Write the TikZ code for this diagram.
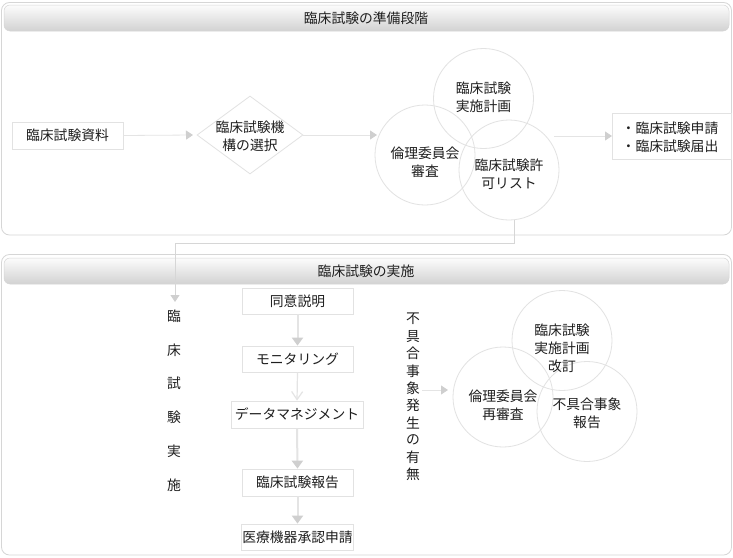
\documentclass[tikz,border=0pt]{standalone}
\usepackage{fontspec}
\setmainfont{Noto Sans CJK JP}
\usetikzlibrary{shapes.geometric,arrows.meta}
\definecolor{panelc}{HTML}{D6D6D6}
\definecolor{boxc}{HTML}{E2E2E2}
\definecolor{linec}{HTML}{E4E4E4}
\definecolor{arrc}{HTML}{CFCFCF}
\definecolor{hdrtop}{HTML}{FCFCFC}
\definecolor{hdrbot}{HTML}{D2D2D2}
\definecolor{txtc}{HTML}{1E1E1E}
\tikzset{
  x=1pt, y=-1pt,
  every node/.style={text=txtc, font=\fontsize{13.8}{18}\selectfont},
  panel/.style={draw=panelc, line width=0.8pt, rounded corners=8pt},
  hdr/.style={draw=panelc, line width=0.5pt, top color=hdrtop, bottom color=hdrbot, rounded corners=6pt},
  stepbox/.style={draw=boxc, line width=0.8pt, fill=white, inner sep=0pt, minimum height=27pt},
  ring/.style={circle, draw=boxc, line width=0.8pt, minimum size=100pt, inner sep=0pt},
  lbl/.style={align=center, inner sep=0pt},
  thin link/.style={draw=linec, line width=0.8pt, -{Triangle[length=7pt,width=9pt,color=arrc]}},
  thick link/.style={draw=linec, line width=2pt, -{Triangle[length=8pt,width=11pt,color=arrc]}},
  open link/.style={draw=linec, line width=1.2pt, -{Straight Barb[length=8pt,width=11pt,color=linec]}},
}
\begin{document}
\begin{tikzpicture}
\useasboundingbox (0,0) rectangle (733,557);
\fill[white] (0,0) rectangle (733,557);

% ---------- top panel ----------
\draw[panel] (1.5,2.5) rectangle (731.5,235);
\shade[hdr] (4,5) rectangle (729,31);
\node (h1) at (366,18) {臨床試験の準備段階};

\node[stepbox, minimum width=111pt] (src) at (67.5,135.5) {臨床試験資料};
\node[diamond, draw=boxc, line width=0.8pt, minimum width=106pt, minimum height=78pt, inner sep=0pt] (dia) at (250,135) {};
\node[lbl] (diat) at (250,136) {臨床試験機\\構の選択};

\node[ring] (c1) at (483.5,98.5) {};
\node[ring] (c2) at (425,155) {};
\node[ring] (c3) at (509,170) {};
\node[lbl] (c1t) at (483.5,97.5) {臨床試験\\実施計画};
\node[lbl] (c2t) at (425,162) {倫理委員会\\審査};
\node[lbl] (c3t) at (509,174) {臨床試験許\\可リスト};

\node[stepbox, minimum width=119pt, minimum height=46pt] (out) at (671.5,136) {};
\node[lbl, align=left] (outt) at (670,137) {・臨床試験申請\\・臨床試験届出};

\coordinate (a1e) at (193,135);
\coordinate (a2e) at (377,135);
\coordinate (a3s) at (554,136);
\coordinate (a3e) at (612,136);
\draw[thin link] (src.east) -- (a1e);
\draw[thin link] (dia.east) -- (a2e);
\draw[thin link] (a3s) -- (a3e);

% ---------- bottom panel ----------
\draw[panel] (1.5,254.5) rectangle (731.5,555);
\shade[hdr] (4,258) rectangle (729,284);
\node (h2) at (366,271) {臨床試験の実施};

% connector from top to bottom
\coordinate (k0) at (514,219.7);
\coordinate (k1) at (514,243);
\coordinate (k2) at (175,243);
\coordinate (k3) at (175,302);
\draw[thin link, draw=panelc] (k0) -- (k1) -- (k2) -- (k3);

% vertical label
\node (v1) at (174,316) {臨};
\node (v2) at (174,350) {床};
\node (v3) at (174,383) {試};
\node (v4) at (174,417) {験};
\node (v5) at (174,451) {実};
\node (v6) at (174,485) {施};

% flow column
\node[stepbox, minimum width=111pt, minimum height=26pt] (s1) at (297.5,301) {同意説明};
\node[stepbox, minimum width=111pt, minimum height=26pt] (s2) at (297.5,359) {モニタリング};
\node[stepbox, minimum width=132pt, minimum height=27pt] (s3) at (297,414.5) {データマネジメント};
\node[stepbox, minimum width=111pt, minimum height=27pt] (s4) at (297.5,482.5) {臨床試験報告};
\node[stepbox, minimum width=112pt, minimum height=26pt] (s5) at (297.5,537) {医療機器承認申請};
\draw[thick link] (s1.south) -- (s2.north);
\draw[open link] (s2.south) -- (s3.north);
\draw[thick link] (s3.south) -- (s4.north);
\draw[thick link] (s4.south) -- (s5.north);

% vertical label 2
\foreach \ch [count=\i from 0] in {不,具,合,事,象,発,生,の,有,無} {
  \node (w\i) at (413,319+17.3*\i) {\ch};
}
\coordinate (b1s) at (422,390);
\coordinate (b1e) at (448,390);
\draw[thin link] (b1s) -- (b1e);

\node[ring] (d1) at (562,340.5) {};
\node[ring] (d2) at (503,397) {};
\node[ring] (d3) at (587,411.5) {};
\node[lbl] (d1t) at (562,348) {臨床試験\\実施計画\\改訂};
\node[lbl] (d2t) at (503,405.5) {倫理委員会\\再審査};
\node[lbl] (d3t) at (587,413) {不具合事象\\報告};
\end{tikzpicture}
\end{document}
